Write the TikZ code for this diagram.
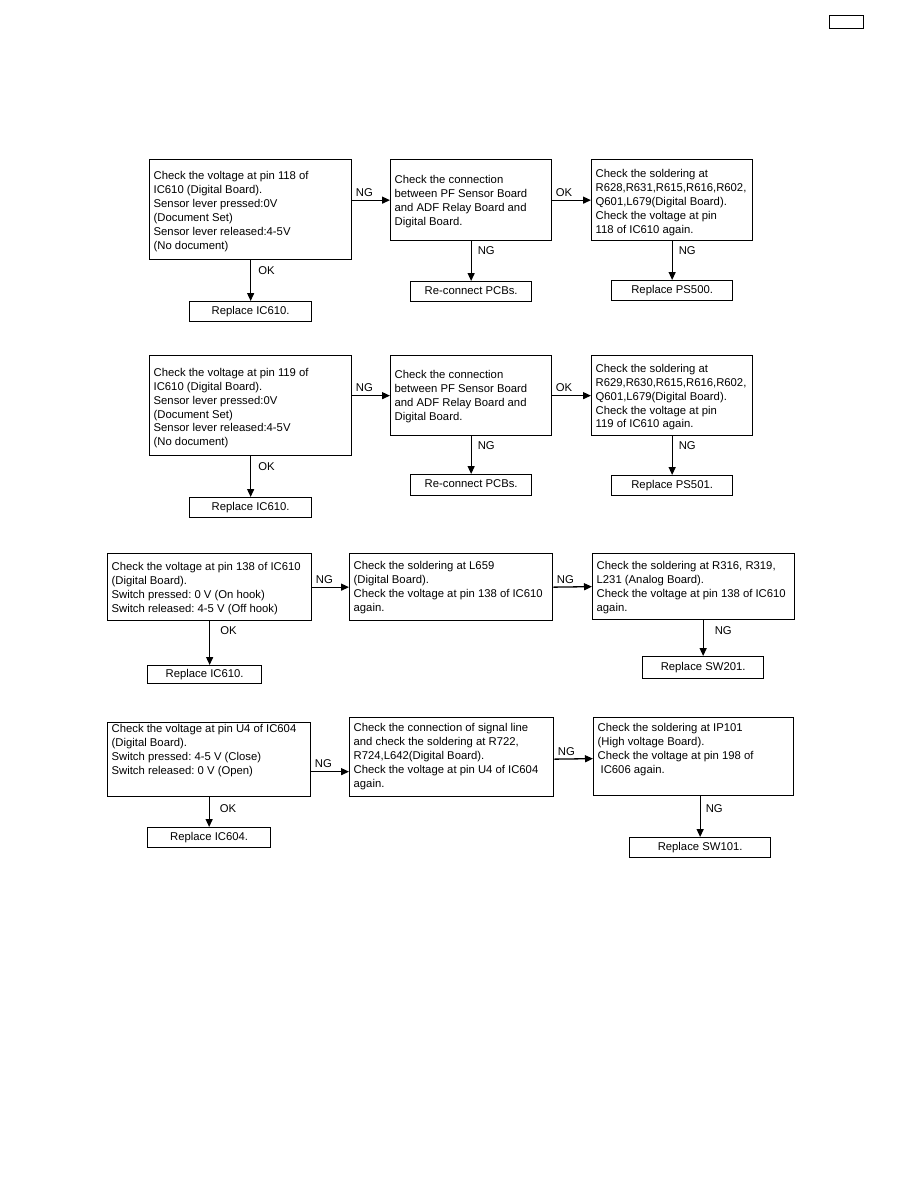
\documentclass[tikz,border=0pt]{standalone}
\usepackage{fontspec}
\setmainfont{Liberation Sans}
\usetikzlibrary{arrows.meta}
\frenchspacing
\newcommand\bt[4]{\begin{minipage}[c][#2][t]{#1}\vspace*{#3}\hspace*{4pt}\begin{tabular}[t]{@{}l@{}}#4\end{tabular}\end{minipage}}
\tikzset{
  txt/.style={font=\fontsize{11.3}{13.9}\selectfont\frenchspacing},
  bigbox/.style={txt, draw, line width=1.3pt, inner sep=0pt, anchor=north west},
  smallbox/.style={txt, draw, line width=1.3pt, inner sep=0pt, anchor=north west, text height=8pt, text depth=2.5pt},
  arr/.style={line width=1.3pt, -{Triangle[length=8pt,width=7pt]}},
  lbl/.style={txt, inner sep=0pt, anchor=base west},
  hl/.style={lbl, pos=0, xshift=3pt, yshift=4pt}
}
\begin{document}
\begin{tikzpicture}[x=1pt,y=-1pt]
\useasboundingbox (0,0) rectangle (918,1188);
\fill[white] (0,0) rectangle (918,1188);

% header box
\node[draw, line width=1.3pt, inner sep=0pt, anchor=north west, minimum width=34pt, minimum height=13pt] (hdr) at (829,15) {};

% ---------- Section 1 ----------
\node[bigbox] (a1) at (149,159) {\bt{202pt}{100pt}{10.3pt}{Check the voltage at pin 118 of\\IC610 (Digital Board).\\Sensor lever pressed:0V\\(Document Set)\\Sensor lever released:4-5V\\(No document)}};
\node[bigbox] (b1) at (390,159) {\bt{161pt}{81pt}{14.3pt}{Check the connection\\between PF Sensor Board\\and ADF Relay Board and\\Digital Board.}};
\node[bigbox] (c1) at (591,159) {\bt{161pt}{81pt}{8.3pt}{Check the soldering at\\R628,R631,R615,R616,R602,\\Q601,L679(Digital Board).\\Check the voltage at pin\\118 of IC610 again.}};
\node[smallbox, minimum width=122pt, minimum height=20pt] (r1a) at (189,301) {Replace IC610.};
\node[smallbox, minimum width=121pt, minimum height=20pt] (r1b) at (410,281) {Re-connect PCBs.};
\node[smallbox, minimum width=121pt, minimum height=20pt] (r1c) at (611,280) {Replace PS500.};

\draw[arr] (a1.east |- b1.west) -- node[hl] {NG} (b1.west);
\draw[arr] (b1.east) -- node[hl] {OK} (c1.west);
\draw[arr] (a1.south) -- node[lbl, pos=0, xshift=7pt, yshift=-14pt] {OK} (a1.south |- r1a.north);
\draw[arr] (b1.south) -- node[lbl, pos=0, xshift=6pt, yshift=-13pt] {NG} (b1.south |- r1b.north);
\draw[arr] (c1.south) -- node[lbl, pos=0, xshift=6pt, yshift=-13pt] {NG} (c1.south |- r1c.north);

% ---------- Section 2 ----------
\node[bigbox] (a2) at (149,355) {\bt{202pt}{100pt}{11pt}{Check the voltage at pin 119 of\\IC610 (Digital Board).\\Sensor lever pressed:0V\\(Document Set)\\Sensor lever released:4-5V\\(No document)}};
\node[bigbox] (b2) at (390,355) {\bt{161pt}{80pt}{13.6pt}{Check the connection\\between PF Sensor Board\\and ADF Relay Board and\\Digital Board.}};
\node[bigbox] (c2) at (591,355) {\bt{161pt}{80pt}{7pt}{Check the soldering at\\R629,R630,R615,R616,R602,\\Q601,L679(Digital Board).\\Check the voltage at pin\\119 of IC610 again.}};
\node[smallbox, minimum width=122pt, minimum height=20pt] (r2a) at (189,497) {Replace IC610.};
\node[smallbox, minimum width=121pt, minimum height=21pt] (r2b) at (410,474) {Re-connect PCBs.};
\node[smallbox, minimum width=121pt, minimum height=20pt] (r2c) at (611,475) {Replace PS501.};

\draw[arr] (a2.east |- b2.west) -- node[hl] {NG} (b2.west);
\draw[arr] (b2.east) -- node[hl] {OK} (c2.west);
\draw[arr] (a2.south) -- node[lbl, pos=0, xshift=7pt, yshift=-14pt] {OK} (a2.south |- r2a.north);
\draw[arr] (b2.south) -- node[lbl, pos=0, xshift=6pt, yshift=-13pt] {NG} (b2.south |- r2b.north);
\draw[arr] (c2.south) -- node[lbl, pos=0, xshift=6pt, yshift=-13pt] {NG} (c2.south |- r2c.north);

% ---------- Section 3 ----------
\node[bigbox] (a3) at (107,553) {\bt{204pt}{67pt}{7.3pt}{Check the voltage at pin 138 of IC610\\(Digital Board).\\Switch pressed: 0 V (On hook)\\Switch released: 4-5 V (Off hook)}};
\node[bigbox] (b3) at (349,553) {\bt{203pt}{67pt}{6.3pt}{Check the soldering at L659\\(Digital Board).\\Check the voltage at pin 138 of IC610\\again.}};
\node[bigbox] (c3) at (592,553) {\bt{202pt}{66pt}{6.3pt}{Check the soldering at R316, R319,\\L231 (Analog Board).\\Check the voltage at pin 138 of IC610\\again.}};
\node[smallbox, minimum width=114pt, minimum height=18pt] (r3a) at (147,665) {Replace IC610.};
\node[smallbox, minimum width=121pt, minimum height=22pt] (r3c) at (642,656) {Replace SW201.};

\draw[arr] (a3.east) -- node[hl] {NG} (b3.west);
\draw[arr] (b3.east) -- node[hl] {NG} (c3.west);
\draw[arr] (a3.south) -- node[lbl, pos=0, xshift=10pt, yshift=-13pt] {OK} (a3.south |- r3a.north);
\draw[arr] (c3.south -| r3c.north) -- node[lbl, pos=0, xshift=11pt, yshift=-14pt] {NG} (r3c.north);

% ---------- Section 4 ----------
\node[bigbox] (a4) at (107,722) {\bt{203pt}{74pt}{0.3pt}{Check the voltage at pin U4 of IC604\\(Digital Board).\\Switch pressed: 4-5 V (Close)\\Switch released: 0 V (Open)}};
\node[bigbox] (b4) at (349,717) {\bt{204pt}{79pt}{4.3pt}{Check the connection of signal line\\and check the soldering at R722,\\R724,L642(Digital Board).\\Check the voltage at pin U4 of IC604\\again.}};
\node[bigbox] (c4) at (593,717) {\bt{200pt}{78pt}{4.3pt}{Check the soldering at IP101\\(High voltage Board).\\Check the voltage at pin 198 of\\\hspace{3pt}IC606 again.}};
\node[smallbox, minimum width=123pt, minimum height=20pt] (r4a) at (147,827) {Replace IC604.};
\node[smallbox, minimum width=141pt, minimum height=20pt] (r4c) at (629,837) {Replace SW101.};

\coordinate (p4) at ([yshift=-14.5pt]b4.west);
\draw[arr] (a4.east |- p4) -- node[hl] {NG} (p4);
\draw[arr] ([yshift=-2pt]b4.east) -- node[hl] {NG} ([yshift=-2pt]c4.west);
\draw[arr] (a4.south) -- node[lbl, pos=0, xshift=10pt, yshift=-15pt] {OK} (a4.south |- r4a.north);
\draw[arr] (c4.south -| r4c.north) -- node[lbl, pos=0, xshift=5pt, yshift=-16pt] {NG} (r4c.north);
\end{tikzpicture}
\end{document}
